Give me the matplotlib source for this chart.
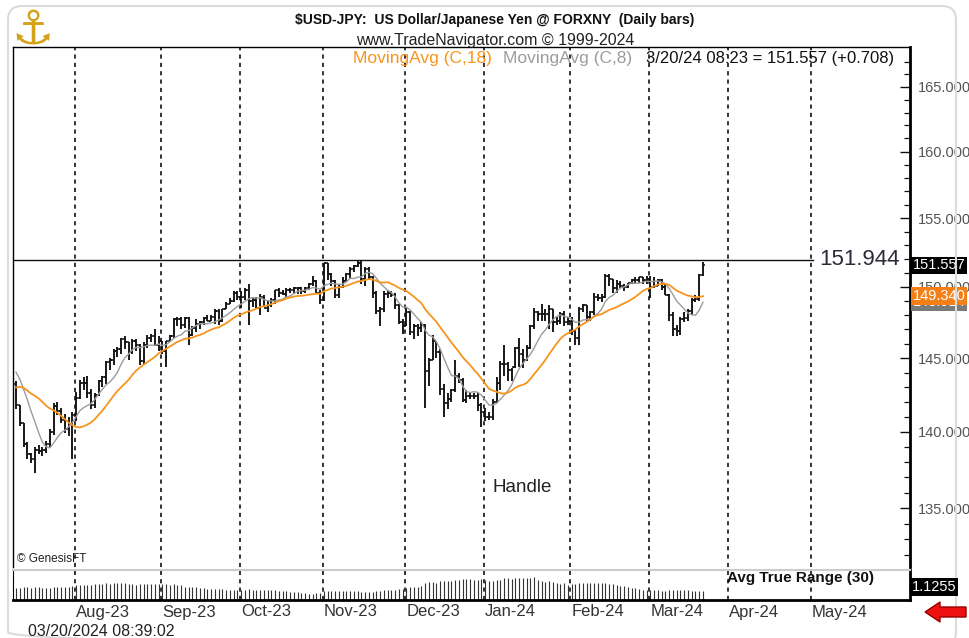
import numpy as np
import pandas as pd
import matplotlib
matplotlib.use("Agg")
import matplotlib.pyplot as plt
from matplotlib.patches import FancyBboxPatch, Polygon
from matplotlib.ticker import FixedLocator, NullFormatter, FuncFormatter
from matplotlib.transforms import blended_transform_factory

# ---- data: USD/JPY daily bars, 2023-07-07 .. 2024-03-20 ----
first_day = "2023-07-07"

opens = [
    143.2, 141.8, 140.6, 139.2, 138.5, 138.2, 138.8, 138.7, 138.8, 139.2, 140.0, 141.7, 141.4, 140.8, 140.2, 140.5, 141.1,
    142.3, 143.3, 143.3, 142.6, 141.8, 142.5, 143.4, 143.7, 144.7, 144.9, 145.5, 145.6, 146.3, 146.1, 145.4, 146.2, 145.9, 144.8, 145.9, 146.4, 146.5, 145.9, 146.2,
    145.5, 146.2, 146.5, 147.7, 147.7, 147.3, 147.8, 146.6, 147.1, 147.4, 147.5, 147.8, 147.6, 147.9, 148.3, 147.6, 148.4, 148.8, 149.0, 149.6, 149.3,
    149.3, 149.8, 149.0, 149.1, 148.5, 149.3, 148.5, 148.7, 149.1, 149.8, 149.6, 149.5, 149.8, 149.8, 149.9, 149.9, 149.7, 149.9, 150.2, 150.4, 149.6, 149.1,
    151.7, 150.9, 150.4, 149.4, 150.0, 150.4, 150.9, 151.3, 151.5, 151.7, 150.6, 151.3, 150.7, 149.6, 148.3, 148.4, 149.5, 149.6, 149.4, 148.7, 147.5, 147.2,
    148.2, 146.8, 147.2, 147.1, 147.3, 144.1, 144.9, 146.2, 145.4, 142.9, 141.9, 142.2, 142.8, 143.8, 143.5, 142.1, 142.4, 142.4, 142.4, 141.8, 141.3,
    141.0, 141.0, 142.0, 143.3, 144.6, 144.6, 144.2, 144.4, 145.7, 145.3, 144.9, 145.7, 147.2, 148.2, 148.1, 148.1, 148.1, 148.4, 147.5, 147.6, 148.1, 147.5, 147.6,
    146.9, 146.4, 148.4, 148.7, 147.9, 148.2, 149.3, 149.2, 149.3, 150.8, 150.6, 149.9, 150.2, 150.1, 150.0, 150.3, 150.5, 150.5, 150.7, 150.5, 150.6,
    150.0, 150.1, 150.5, 150.0, 149.4, 148.0, 147.05, 146.9, 147.7, 147.8, 148.3, 149.05, 149.15, 150.85,
]
highs = [
    143.4, 141.8, 140.6, 139.3, 138.6, 139.0, 139.1, 139.0, 139.4, 140.2, 141.9, 142.0, 141.6, 141.2, 141.0, 141.3, 142.7,
    143.5, 143.7, 143.8, 142.9, 142.6, 143.5, 143.8, 144.8, 145.0, 145.6, 145.8, 146.4, 146.5, 146.1, 146.3, 146.3, 146.0, 146.1, 146.6, 146.7, 147.0, 146.5, 146.2,
    146.2, 146.6, 147.8, 147.9, 147.9, 147.9, 147.9, 147.2, 147.7, 147.6, 147.9, 148.0, 148.0, 148.4, 148.4, 148.4, 148.9, 149.2, 149.7, 149.7, 149.7,
    149.9, 150.2, 149.3, 149.3, 149.5, 149.4, 149.0, 149.2, 149.8, 149.9, 149.8, 149.9, 149.9, 150.0, 150.0, 150.0, 150.0, 150.3, 150.8, 150.5, 149.8, 151.7,
    151.7, 151.0, 150.5, 150.2, 150.7, 151.0, 151.4, 151.6, 151.9, 151.9, 151.4, 151.4, 150.8, 149.7, 148.6, 149.7, 149.8, 149.7, 149.6, 148.8, 147.7, 148.5,
    148.3, 147.4, 147.4, 147.5, 147.4, 145.0, 146.6, 146.2, 145.6, 143.2, 142.6, 142.9, 144.9, 144.0, 143.6, 142.8, 142.6, 142.6, 142.6, 141.9, 141.6,
    141.3, 142.2, 143.7, 144.8, 145.9, 144.7, 144.3, 145.8, 146.4, 145.6, 145.9, 147.3, 148.5, 148.3, 148.8, 148.4, 148.7, 148.4, 147.9, 148.2, 148.3, 147.9, 147.9,
    147.0, 148.6, 148.8, 148.7, 148.3, 149.6, 149.5, 149.5, 150.9, 150.9, 150.6, 150.5, 150.4, 150.2, 150.3, 150.6, 150.7, 150.7, 150.7, 150.8, 150.8,
    150.7, 150.6, 150.6, 150.2, 149.5, 148.2, 147.3, 147.9, 148.2, 148.4, 149.2, 149.4, 150.9, 151.82,
]
lows = [
    141.5, 140.4, 139.0, 138.2, 137.9, 137.25, 138.5, 138.4, 138.6, 139.0, 139.8, 141.1, 140.6, 139.9, 139.7, 138.2, 140.7,
    142.2, 142.8, 142.3, 141.5, 141.6, 142.4, 143.0, 143.2, 144.2, 144.5, 145.1, 145.3, 145.6, 144.9, 145.3, 145.5, 144.5, 144.5, 145.7, 146.1, 145.9, 145.5, 145.3,
    144.4, 146.1, 146.4, 147.2, 147.0, 147.1, 145.9, 146.5, 146.8, 147.0, 147.3, 147.6, 147.6, 147.4, 147.3, 147.5, 148.4, 148.8, 148.9, 149.1, 148.5,
    149.1, 147.3, 148.6, 148.5, 148.0, 148.6, 148.2, 148.6, 148.8, 149.3, 149.4, 149.3, 149.6, 149.6, 149.5, 149.5, 149.6, 149.8, 150.1, 149.6, 148.8, 149.0,
    150.5, 150.1, 149.2, 149.2, 149.9, 150.4, 150.6, 151.1, 151.4, 150.2, 150.1, 150.5, 149.2, 148.1, 147.2, 148.2, 149.2, 149.3, 148.4, 147.4, 146.7, 147.2,
    146.6, 146.3, 146.5, 146.8, 141.6, 143.1, 144.9, 145.0, 142.5, 141.0, 141.5, 142.0, 142.7, 143.3, 142.0, 141.9, 142.2, 142.2, 141.4, 140.3, 140.7,
    140.8, 140.8, 141.9, 142.8, 143.8, 143.4, 143.4, 144.3, 144.4, 144.3, 144.8, 145.6, 147.0, 147.6, 147.6, 147.6, 147.0, 146.8, 147.3, 147.4, 147.2, 147.3, 146.6,
    145.9, 145.9, 148.2, 147.6, 147.6, 148.0, 149.0, 148.9, 149.2, 150.1, 149.6, 149.6, 149.9, 149.7, 149.9, 150.2, 150.2, 150.3, 150.2, 150.2, 149.2,
    149.9, 150.1, 149.8, 149.4, 147.6, 146.5, 146.5, 146.6, 147.5, 147.6, 148.0, 148.9, 149.0, 150.8,
]
closes = [
    141.8, 140.6, 139.2, 138.5, 138.2, 138.8, 138.7, 138.8, 139.2, 140.0, 141.7, 141.4, 140.8, 140.2, 140.5, 141.1, 142.3,
    143.3, 143.3, 142.6, 141.8, 142.5, 143.4, 143.7, 144.7, 144.9, 145.5, 145.6, 146.3, 146.1, 145.4, 146.2, 145.9, 144.8, 145.9, 146.4, 146.5, 145.9, 146.2, 145.5,
    146.2, 146.5, 147.7, 147.7, 147.3, 147.8, 146.6, 147.1, 147.4, 147.5, 147.8, 147.6, 147.9, 148.3, 147.6, 148.4, 148.8, 149.0, 149.6, 149.3, 149.3,
    149.8, 149.0, 149.1, 148.5, 149.3, 148.5, 148.7, 149.1, 149.8, 149.6, 149.5, 149.8, 149.8, 149.9, 149.9, 149.7, 149.9, 150.2, 150.4, 149.6, 149.1, 151.7,
    150.9, 150.4, 149.4, 150.0, 150.4, 150.9, 151.3, 151.5, 151.7, 150.6, 151.3, 150.7, 149.6, 148.3, 148.4, 149.5, 149.6, 149.4, 148.7, 147.5, 147.2, 148.2,
    146.8, 147.2, 147.1, 147.3, 144.1, 144.9, 146.2, 145.4, 142.9, 141.9, 142.2, 142.8, 143.8, 143.5, 142.1, 142.4, 142.4, 142.4, 141.8, 141.3, 141.0,
    141.0, 142.0, 143.3, 144.6, 144.6, 144.2, 144.4, 145.7, 145.3, 144.9, 145.7, 147.2, 148.2, 148.1, 148.1, 148.1, 148.4, 147.5, 147.6, 148.1, 147.5, 147.6, 146.9,
    146.4, 148.4, 148.7, 147.9, 148.2, 149.3, 149.2, 149.3, 150.8, 150.6, 149.9, 150.2, 150.1, 150.0, 150.3, 150.5, 150.5, 150.7, 150.5, 150.6, 150.0,
    150.1, 150.5, 150.0, 149.4, 148.0, 147.05, 146.9, 147.7, 147.8, 148.3, 149.05, 149.15, 150.85, 151.557,
]

# bars before the first shown one (only feed the averages / ATR)
pre_highs = [139.7, 140.3, 140.5, 141.5, 141.9, 142.0, 142.0, 142.0, 143.2, 143.8, 143.8, 144.0, 144.5, 144.9, 145.1, 144.9, 144.6, 144.8, 144.7]
pre_lows = [139.2, 139.3, 139.3, 139.9, 139.9, 141.3, 141.2, 141.3, 141.5, 142.9, 143.0, 143.2, 143.8, 144.3, 144.1, 144.2, 144.2, 144.0, 143.5]
pre_closes = [139.6, 140.1, 140.0, 140.3, 141.8, 141.9, 141.5, 141.9, 143.1, 143.7, 143.5, 143.9, 144.3, 144.6, 144.3, 144.5, 144.3, 144.5, 143.9]

price_ticks = [135, 140, 145, 150, 155, 160, 165]
resistance = 151.944
last_price_label = "151.557"
ma18_label = "149.340"
ma8_label = "148.914"
atr_label = "1.1255"

# ---- layout (pixels of the 969x638 picture) ----
W, H = 969, 638
PX0, PXS = 16.0, 3.754        # x pixel of first bar, pixels per bar
SANS = ["Liberation Sans", "DejaVu Sans"]
ORANGE = "#f7941d"
GREY = "#9c9c9c"


def fax(l, t, r, b):
    return [l / W, 1 - b / H, (r - l) / W, (b - t) / H]


def px_to_i(px):
    return (px - PX0) / PXS


n = len(closes)
xi = np.arange(n)
all_close = pd.Series(pre_closes + closes)
ma18 = all_close.rolling(18).mean().values[len(pre_closes):]
ma8 = all_close.rolling(8).mean().values[len(pre_closes):]

hh = pd.Series(pre_highs + highs)
ll = pd.Series(pre_lows + lows)
prev_c = all_close.shift(1)
tr = pd.concat([hh - ll, (hh - prev_c).abs(), (ll - prev_c).abs()], axis=1).max(axis=1)
atr = tr.rolling(30, min_periods=1).mean().values[len(pre_closes):]

days = pd.bdate_range(first_day, "2024-05-31")
month_idx = [k for k in range(1, len(days)) if days[k].month != days[k - 1].month]
month_lab = [days[k].strftime("%b-%y") for k in month_idx]
month_x = [k - 1.3 for k in month_idx]

fig = plt.figure(figsize=(W / 100, H / 100), dpi=100)
fig.patch.set_facecolor("white")

# ---- price panel ----
ax = fig.add_axes(fax(13, 47, 910, 567))
ax.set_yscale("log")
ax.set_xlim(px_to_i(13), px_to_i(910))
ax.set_ylim(131.26, 168.17)

for m in month_x:
    ax.axvline(m, color="#111111", lw=1.2, ls=(0, (2.5, 2.5)), zorder=1)

ax.plot([px_to_i(13), px_to_i(813)], [resistance, resistance], color="#111111", lw=1.0, zorder=2)

ax.vlines(xi, lows, highs, color="#111111", lw=1.35, zorder=3)
ax.hlines(opens, xi - 0.6, xi, color="#111111", lw=1.1, zorder=3)
ax.hlines(closes, xi, xi + 0.6, color="#111111", lw=1.1, zorder=3)
ax.plot(xi, ma8, color=GREY, lw=1.0, zorder=4)
ax.plot(xi, ma18, color=ORANGE, lw=1.3, zorder=4)

ax.yaxis.tick_right()
ax.yaxis.set_major_locator(FixedLocator(price_ticks))
ax.yaxis.set_major_formatter(FuncFormatter(lambda v, p: f"{v:.3f}"))
ax.yaxis.set_minor_locator(FixedLocator(np.arange(132, 168)))
ax.yaxis.set_minor_formatter(NullFormatter())
ax.tick_params(axis="y", which="major", direction="in", length=7, width=1.0,
               colors="#111111", labelcolor="#555555", labelsize=10.5, pad=6)
ax.tick_params(axis="y", which="minor", direction="in", length=4, width=0.9, colors="#111111")
for lab in ax.get_yticklabels():
    lab.set_family(SANS)
ax.set_xticks([])
ax.spines["bottom"].set_visible(False)
ax.spines["right"].set_linewidth(2)
ax.spines["left"].set_linewidth(1)
ax.spines["top"].set_linewidth(1)

ax.text(px_to_i(819), resistance, f"{resistance:.3f}", ha="left", va="center",
        fontsize=16, color="#2a2a38", family=SANS, zorder=5)
ax.text(px_to_i(522), 136.3, "Handle", ha="center", va="center", fontsize=13.5,
        color="#222222", family=SANS)

yt = blended_transform_factory(ax.transAxes, ax.transData)
ax.text(1.003, float(ma8_label), ma8_label, transform=yt, ha="left", va="center", fontsize=10.5,
        color="white", family=SANS, clip_on=False, zorder=6,
        bbox=dict(boxstyle="square,pad=0.12", fc="#7a7a7a", ec="none"))
ax.text(1.003, float(ma18_label), ma18_label, transform=yt, ha="left", va="center", fontsize=10.5,
        color="white", family=SANS, clip_on=False, zorder=7,
        bbox=dict(boxstyle="square,pad=0.12", fc="#f57f17", ec="none"))
ax.text(1.003, float(last_price_label), last_price_label, transform=yt, ha="left", va="center",
        fontsize=10.5, color="white", family=SANS, clip_on=False, zorder=8,
        bbox=dict(boxstyle="square,pad=0.12", fc="black", ec="none"))

# ---- ATR panel ----
ax2 = fig.add_axes(fax(13, 570, 910, 600))
ax2.set_xlim(px_to_i(13), px_to_i(910))
ax2.set_ylim(0.45, 1.9)
for m in month_x:
    ax2.axvline(m, color="#111111", lw=1.2, ls=(0, (2.5, 2.5)), zorder=1)
ax2.vlines(xi, 0.45, atr, color="#333333", lw=0.8, zorder=2)
ax2.set_xticks([])
ax2.set_yticks([])
ax2.spines["top"].set_color("#cccccc")
ax2.spines["top"].set_linewidth(1.5)
ax2.spines["bottom"].set_linewidth(2)
ax2.spines["right"].set_linewidth(2)
for m, lab in zip(month_x, month_lab):
    ax2.annotate(lab, xy=(m, 0), xycoords=("data", "axes fraction"), xytext=(1, -12),
                 textcoords="offset pixels", ha="left", va="center", fontsize=12,
                 color="#333333", family=SANS, annotation_clip=False)

# ---- header, footer, decorations (overlay on top of the panels) ----
bg = fig.add_axes([0, 0, 1, 1])
bg.set_zorder(10)
bg.set_xlim(0, W)
bg.set_ylim(H, 0)
bg.axis("off")
bg.add_patch(FancyBboxPatch((8, 6), 948, 640, boxstyle="round,pad=0,rounding_size=14",
                            fc="none", ec="#dcdcdc", lw=1.5))

bg.text(495, 20, "$USD-JPY:  US Dollar/Japanese Yen @ FORXNY  (Daily bars)", ha="center",
        va="center", fontsize=10, weight="bold", family=SANS, color="#111111")
bg.text(495, 40, "www.TradeNavigator.com \u00a9 1999-2024", ha="center", va="center",
        fontsize=11.5, family=SANS, color="#222222")
bg.text(353, 58, "MovingAvg (C,18)", ha="left", va="center", fontsize=12.5, family=SANS, color=ORANGE)
bg.text(503, 58, "MovingAvg (C,8)", ha="left", va="center", fontsize=12.5, family=SANS, color=GREY)
bg.text(646, 58, "3/20/24 08:23 = 151.557 (+0.708)", ha="left", va="center", fontsize=12,
        family=SANS, color="#111111")
bg.text(33, 31, "\u2693", ha="center", va="center", fontsize=34, color="#d4a31a", family="DejaVu Sans")
bg.text(17, 559, "\u00a9 GenesisFT", ha="left", va="center", fontsize=8.5, family=SANS, color="#222222")
bg.text(727, 578, "Avg True Range (30)", ha="left", va="center", fontsize=11, weight="bold",
        family=SANS, color="#111111")
bg.text(912, 587, atr_label, ha="left", va="center", fontsize=10.5, family=SANS, color="white",
        bbox=dict(boxstyle="square,pad=0.12", fc="black", ec="none"))
bg.text(28, 632, "03/20/2024 08:39:02", ha="left", va="center", fontsize=11.5, family=SANS, color="#222222")
bg.add_patch(Polygon([(925, 612), (940, 602), (940, 607), (966, 607), (966, 617), (940, 617), (940, 622)],
                     closed=True, fc="#ee1111", ec="#990000", lw=1))

fig.savefig("out.png", dpi=100)
